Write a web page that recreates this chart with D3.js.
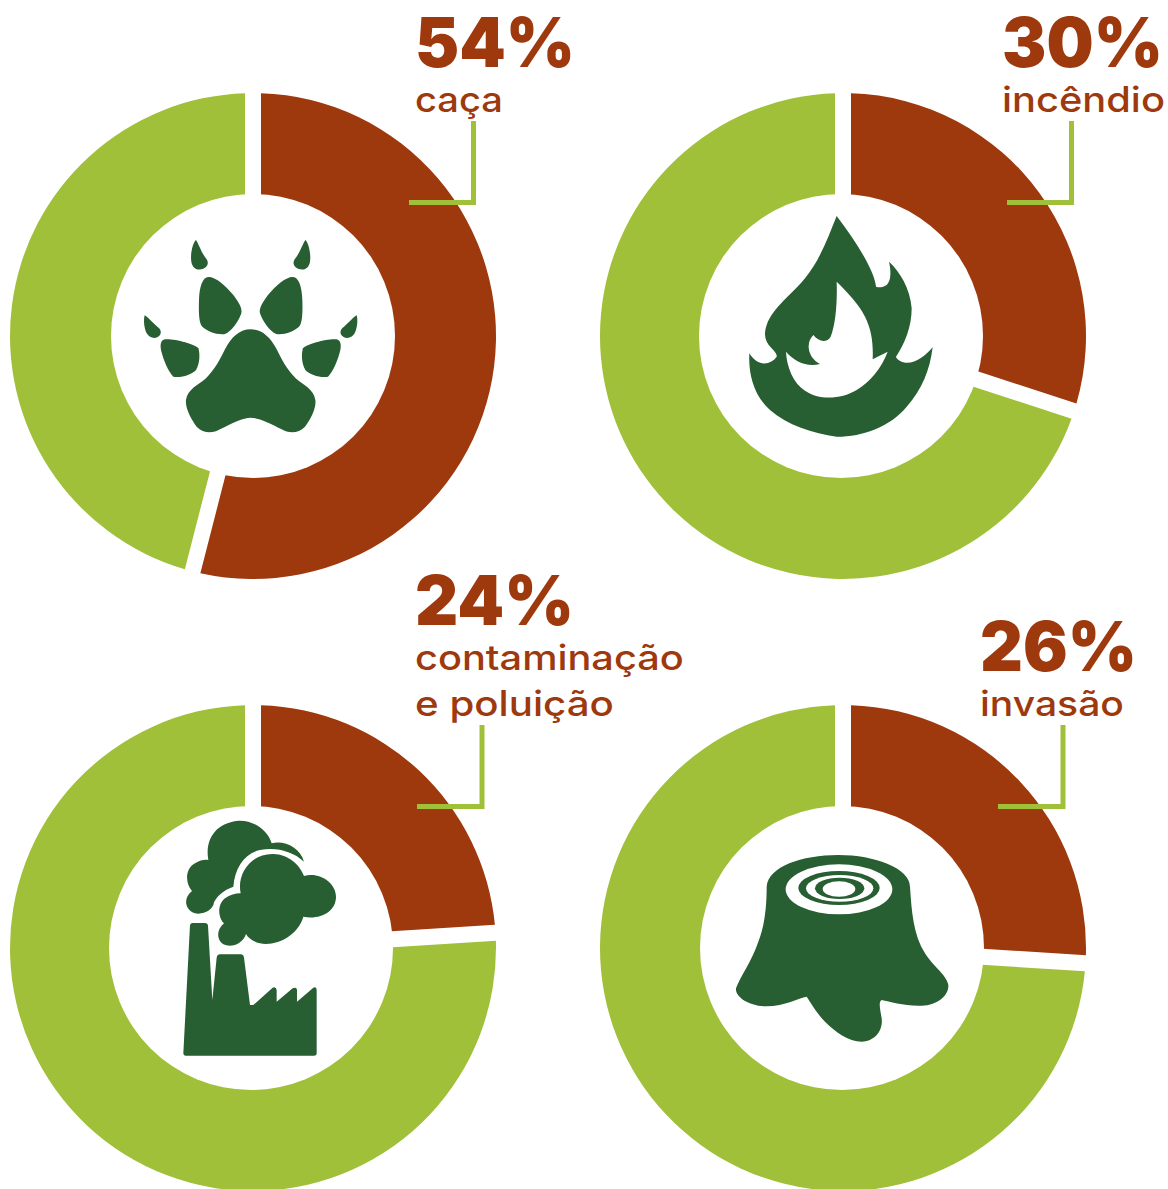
<!DOCTYPE html>
<html lang="pt">
<head>
<meta charset="utf-8">
<title>Ameaças</title>
<script src="https://cdn.jsdelivr.net/npm/d3@7"></script>
<style>
  html, body { margin: 0; padding: 0; background: #fff; }
  svg { display: block; }
  text { fill: #9E390E; font-family: Inter, "Open Sans", sans-serif; }
</style>
</head>
<body>
<div id="chart"></div>
<script>
// Share of threatened species per threat, in percent
const threats = ["caça", "incêndio", "contaminação e poluição", "invasão"];
const threatShares = [54, 30, 24, 26];
const captionLines = [["caça"], ["incêndio"], ["contaminação", "e poluição"], ["invasão"]];

const RUST = "#9E390E", LEAF = "#A0C03A", FOREST = "#275E32";
const WIDTH = 1168, HEIGHT = 1189;
const OUTER = 243, HOLE = 142, GAP = 16;

// Donut centres, hole centres, caption anchors and leader corners
const centres = [[253, 336], [843, 336], [253, 948], [843, 948]];
const holeX = [253, 841, 251, 842];
const captionX = [415, 1002, 415, 980];
const pctBaseline = [67, 67, 625, 671];
const pctWidth = [160, 161, 159, 157];
const lineWidths = [[88], [163], [269, 199], [144]];
const lineBaselines = [[112], [112], [670, 716], [716]];
const leaders = [
  { x0: 409, y: 202.5, x: 473.5, y0: 121 },
  { x0: 1007, y: 202.5, x: 1071.5, y0: 121 },
  { x0: 417, y: 806.5, x: 482, y0: 725 },
  { x0: 998, y: 806.5, x: 1063, y0: 725 }
];

const svg = d3.select("#chart").append("svg")
  .attr("width", WIDTH).attr("height", HEIGHT)
  .attr("viewBox", `0 0 ${WIDTH} ${HEIGHT}`);

const pie = d3.pie().sort(null).value(d => d);
const arc = d3.arc()
  .innerRadius(HOLE - 10).outerRadius(OUTER)
  .padRadius(OUTER).padAngle(GAP / OUTER);

const donuts = svg.selectAll("g.donut").data(threatShares).join("g")
  .attr("class", "donut")
  .attr("transform", (d, i) => `translate(${centres[i][0]},${centres[i][1]})`);

donuts.selectAll("path")
  .data(d => pie([d, 100 - d])).join("path")
  .attr("d", arc)
  .attr("fill", (d, i) => (i === 0 ? RUST : LEAF));

// The white hole sits slightly off the ring's centre
svg.selectAll("circle.hole").data(threatShares).join("circle")
  .attr("class", "hole")
  .attr("cx", (d, i) => holeX[i]).attr("cy", (d, i) => centres[i][1])
  .attr("r", HOLE).attr("fill", "#fff");

// Leader lines from slice to caption
svg.selectAll("path.leader").data(leaders).join("path")
  .attr("class", "leader")
  .attr("fill", "none").attr("stroke", LEAF).attr("stroke-width", 5)
  .attr("d", d => {
    const p = d3.path();
    p.moveTo(d.x0, d.y); p.lineTo(d.x, d.y); p.lineTo(d.x, d.y0);
    return p.toString();
  });

// Stretches or narrows a text horizontally until it spans the given width
function fitText(sel, x, y, width) {
  const natural = sel.node().getComputedTextLength();
  sel.attr("transform", `translate(${x},${y}) scale(${width / natural},1)`);
}

// Percent figures
threatShares.forEach((share, i) => {
  svg.append("text")
    .attr("class", "pct")
    .attr("font-size", 69).attr("font-weight", 900)
    .text(`${share}%`)
    .call(fitText, captionX[i], pctBaseline[i], pctWidth[i]);
});

// Captions
captionLines.forEach((lines, i) => {
  lines.forEach((line, j) => {
    svg.append("text")
      .attr("font-size", 35).attr("font-weight", 500)
      .text(line)
      .call(fitText, captionX[i], lineBaselines[i][j], lineWidths[i][j]);
  });
});

// Pictograms, outlined on a 3:1 grid and placed by their top-left corner
const icon = (x, y) => svg.append("g").attr("fill", FOREST)
  .attr("transform", `translate(${x},${y}) scale(${1 / 3})`);

// Paw: five shapes, the four side ones mirrored around the main pad
const paw = icon(130, 230);
const pawSide = [
  "M198 30C190 35 180 70 184 95C188 118 205 122 220 116C235 108 236 98 230 88C215 70 205 40 198 30Z",
  "M235 141C218 142 208 170 207 210C206 240 206 275 215 288C230 305 265 316 285 312C305 305 325 275 334 250C338 235 325 215 310 195C285 165 255 140 235 141Z",
  "M44 256C40 270 42 295 50 310C60 327 80 328 90 315C96 305 90 295 82 290C68 278 50 258 44 256Z",
  "M105 328C92 330 90 345 93 360C100 390 115 425 130 440C150 445 185 435 198 420C210 400 210 370 205 355C195 342 130 325 105 328Z"
];
pawSide.forEach(d => {
  paw.append("path").attr("d", d);
  paw.append("path").attr("d", d).attr("transform", "translate(724,0) scale(-1,1)");
});
paw.append("path").attr("d", "M362 298C330 298 305 320 285 358C270 388 255 418 228 445C205 465 172 478 168 510C165 535 185 570 200 590C220 612 250 610 270 598C305 580 340 563 362 563C385 563 420 580 455 598C475 610 505 612 525 590C540 570 560 535 556 510C552 478 520 465 497 445C470 418 455 388 440 358C420 320 395 298 362 298Z");

// Flame with its inner tongue cut out
icon(730, 210).append("path").attr("fill-rule", "evenodd").attr("d",
  "M320 18C295 80 270 150 225 205C190 250 130 290 110 345C100 375 105 395 125 415C135 425 142 435 140 440C125 462 85 475 58 430C55 490 70 555 120 600C170 645 250 670 320 680C400 680 480 650 530 590C575 540 600 480 608 412C585 440 550 465 520 457C510 453 500 448 498 440C525 400 545 350 545 295C540 235 510 185 477 155C485 190 482 220 465 228C455 233 445 232 438 230C435 190 390 110 320 18Z" +
  "M320 215C322 270 318 340 302 380C290 400 265 395 250 375C235 390 230 415 245 440C252 450 262 458 270 462C230 472 195 455 168 425C170 470 190 520 225 542C265 570 330 570 380 540C420 515 455 475 473 425L428 448C430 400 425 360 405 320C385 280 350 245 320 215Z");

// Factory and two smoke clouds
const factory = icon(170, 815);
factory.append("path").attr("d", "M115 135C105 80 130 25 205 17C255 15 295 50 305 85C340 75 390 95 402 140C370 110 320 95 270 105C225 115 195 155 190 215C160 225 140 245 132 262C130 285 100 300 75 295C45 285 38 250 66 228C45 205 45 160 75 145C90 135 105 133 115 135Z");
factory.append("path").attr("d", "M212 235C200 180 240 115 310 117C355 118 390 150 402 183C450 170 498 205 498 245C498 290 450 315 400 305C385 360 320 395 270 385C250 380 235 370 228 357C220 385 185 400 160 388C140 375 138 345 162 325C145 310 140 270 165 250C180 240 195 235 212 235Z");
factory.append("path").attr("d", "M60 330Q62 324 68 324L105 324Q113 324 114 332L127 555L140 428Q142 418 150 418L212 418Q220 418 222 428L240 570L250 570L308 518Q318 514 320 525L320 560L368 520Q380 514 381 525L381 560L430 518Q440 514 440 525L440 715Q440 722 432 722L46 722Q40 722 40 715Z");

// Tree stump with concentric growth rings
const stump = icon(725, 845);
stump.append("path").attr("d", "M125 125C130 65 230 30 340 30C450 30 555 70 555 125C560 200 565 270 600 325C625 365 665 390 670 420C672 450 640 480 590 482C540 484 495 470 470 465C460 470 465 490 470 520C475 560 445 590 410 590C370 590 330 560 300 530C275 505 255 470 245 455C220 458 180 485 120 484C70 482 30 455 33 430C45 395 80 350 100 290C120 240 125 180 125 125Z");
const rings = [
  [342, 133, 160, 75, "#fff"],
  [342, 129, 122, 51, FOREST],
  [344, 130, 101, 40, "#fff"],
  [344, 130, 74, 32, FOREST],
  [342, 132, 49, 23, "#fff"]
];
stump.selectAll("ellipse").data(rings).join("ellipse")
  .attr("cx", d => d[0]).attr("cy", d => d[1])
  .attr("rx", d => d[2]).attr("ry", d => d[3])
  .attr("fill", d => d[4]);
</script>
</body>
</html>
